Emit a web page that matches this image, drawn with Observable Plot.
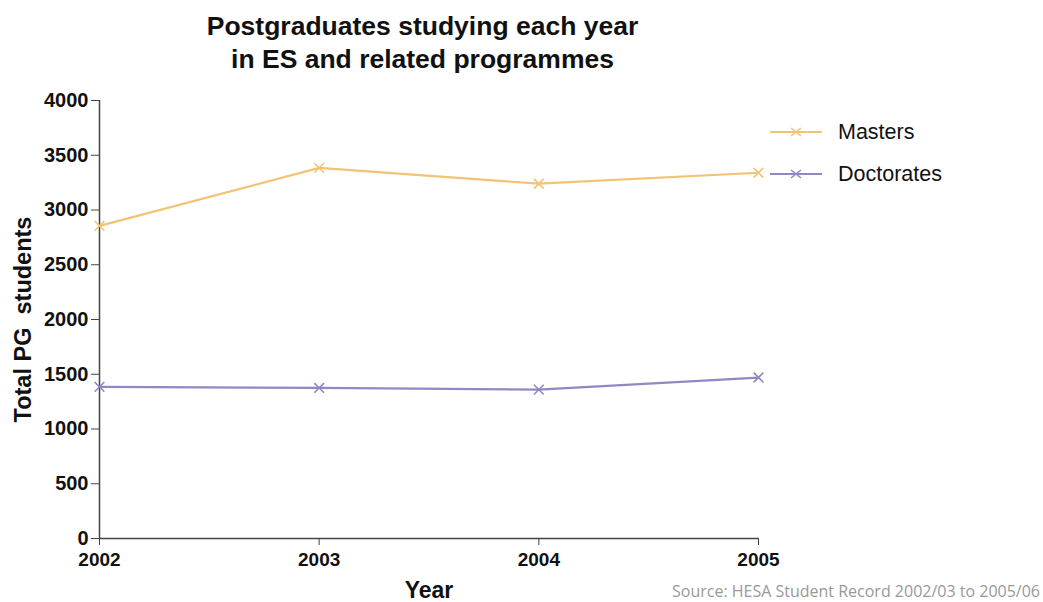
<!DOCTYPE html>
<html><head><meta charset="utf-8">
<script src="https://cdn.jsdelivr.net/npm/d3@7"></script>
<script src="https://cdn.jsdelivr.net/npm/@observablehq/plot@0.6"></script>
<style>
body{margin:0;background:#fff;font-family:"Liberation Sans",Arial,sans-serif;}
#wrap{position:relative;width:1043px;height:602px;}
#title{position:absolute;left:0;width:845px;top:9.5px;text-align:center;font-weight:bold;font-size:26.5px;line-height:33px;color:#111;}
#legend{position:absolute;left:770px;top:111px;font-size:21.5px;color:#111;}
.li{display:flex;align-items:center;height:42px;}
.li svg{margin-right:16px;}
#source{position:absolute;right:3px;top:580px;font-family:"Open Sans",sans-serif;font-size:16px;color:#999;}
#chart{position:absolute;left:0;top:0;}
</style></head>
<body><div id="wrap">
<div id="chart"></div>
<div id="title">Postgraduates studying each year<br>in ES and related programmes</div>
<div id="legend"></div>
<div id="source">Source: HESA Student Record 2002/03 to 2005/06</div>
</div>
<script>
const years = [2002, 2003, 2004, 2005];
const masters = [2855, 3385, 3240, 3340];
const doctorates = [1385, 1375, 1360, 1470];
const seriesNames = ["Masters", "Doctorates"];
const seriesColors = ["#f2c374", "#8f89c2"];
const yTicks = [0, 500, 1000, 1500, 2000, 2500, 3000, 3500, 4000];

const data = [];
years.forEach((y, i) => {
  data.push({year: y, value: masters[i], series: seriesNames[0]});
  data.push({year: y, value: doctorates[i], series: seriesNames[1]});
});

const plot = Plot.plot({
  width: 1043, height: 602,
  marginLeft: 99, marginRight: 285, marginTop: 100, marginBottom: 64,
  style: {fontFamily: "'Liberation Sans', Arial, sans-serif", background: "transparent"},
  x: {domain: [2002, 2005], ticks: years, tickFormat: d => String(d)},
  y: {domain: [0, 4000], ticks: yTicks, tickFormat: d => String(d)},
  color: {domain: seriesNames, range: seriesColors},
  marks: [
    Plot.ruleX([2002], {y1: 0, y2: 4000, stroke: "#444", strokeWidth: 1.5}),
    Plot.ruleY([0], {stroke: "#444", strokeWidth: 1.5}),
    Plot.axisY({ticks: yTicks, tickFormat: d => String(d), tickSize: 8, tickPadding: 3, fill: "#111", stroke: "#444",
      label: "Total PG  students", labelAnchor: "center", labelArrow: "none", labelOffset: 85}),
    Plot.axisX({ticks: years, tickFormat: d => String(d), tickSize: 7, tickPadding: 7, fill: "#111", stroke: "#444",
      label: "Year", labelAnchor: "center", labelArrow: "none", labelOffset: 59}),
    Plot.line(data, {x: "year", y: "value", z: "series", stroke: "series", strokeWidth: 2.2}),
    Plot.dot(data, {x: "year", y: "value", stroke: "series", symbol: "times", r: 4.5, strokeWidth: 1.6})
  ]
});
const setAttrs = (sel, attrs) => plot.querySelectorAll(sel).forEach(g => {
  for (const k in attrs) g.setAttribute(k, attrs[k]);
  g.querySelectorAll("text").forEach(t => { for (const k in attrs) t.setAttribute(k, attrs[k]); });
});
setAttrs('[aria-label="y-axis tick label"]', {"font-size": "20", "font-weight": "bold"});
setAttrs('[aria-label="x-axis tick label"]', {"font-size": "19", "font-weight": "bold"});
setAttrs('[aria-label="y-axis label"]', {"font-size": "23.5", "font-weight": "bold", "fill": "#111"});
setAttrs('[aria-label="x-axis label"]', {"font-size": "23", "font-weight": "bold", "fill": "#111"});
document.getElementById("chart").appendChild(plot);

const leg = document.getElementById("legend");
seriesNames.forEach((n, i) => {
  const d = document.createElement("div"); d.className = "li";
  d.innerHTML = `<svg width="52" height="12"><line x1="0" y1="6" x2="52" y2="6" stroke="${seriesColors[i]}" stroke-width="2.2"/><path d="M21,2L31,10M31,2L21,10" stroke="${seriesColors[i]}" stroke-width="1.6"/></svg><span>${n}</span>`;
  leg.appendChild(d);
});
</script>
</body></html>
